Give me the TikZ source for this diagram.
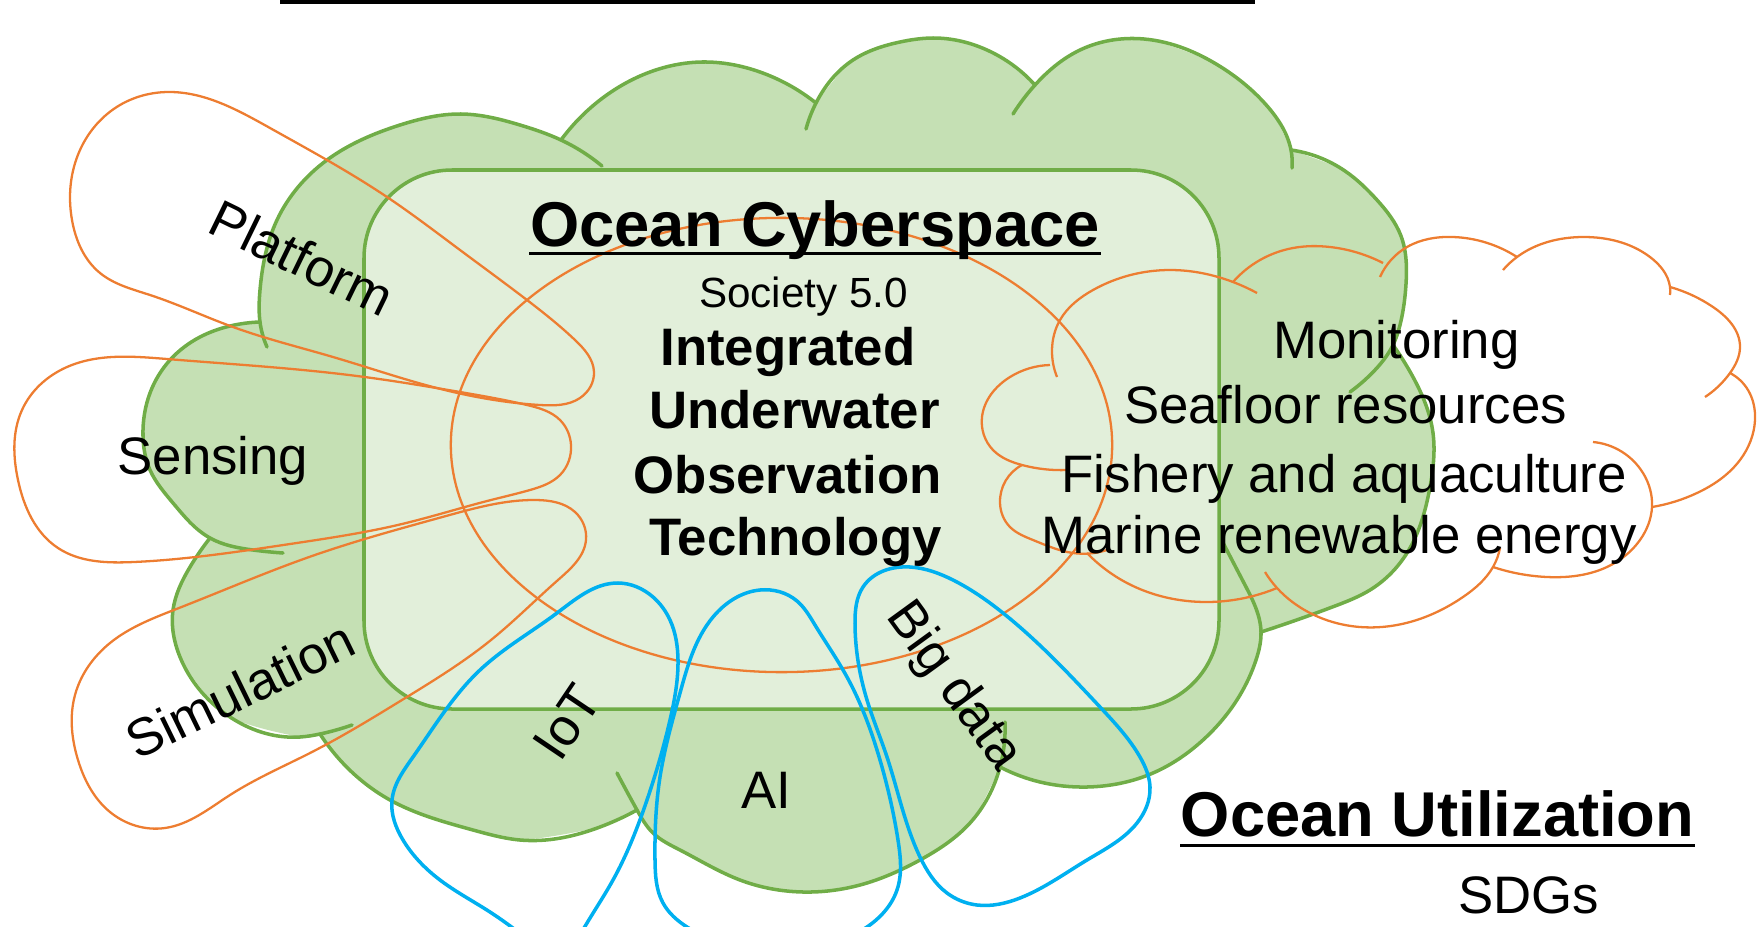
\documentclass[tikz,border=0pt]{standalone}
\usepackage{fontspec}
\setmainfont{Liberation Sans}
\usetikzlibrary{hobby}
\definecolor{gline}{HTML}{70AD47}
\definecolor{gfill}{HTML}{C5E0B4}
\definecolor{lfill}{HTML}{E2EFDA}
\definecolor{oline}{HTML}{ED7D31}
\definecolor{bline}{HTML}{00B0F0}
\begin{document}
\begin{tikzpicture}[x=0.01cm,y=-0.01cm,
  garc/.style={draw=gline,line width=1pt,line cap=round,use Hobby shortcut},
  oarc/.style={draw=oline,line width=0.65pt,use Hobby shortcut},
  ocl/.style={draw=oline,line width=0.65pt,use Hobby shortcut,closed=true},
  bloop/.style={draw=bline,line width=1pt,use Hobby shortcut,closed=true},
  lbl/.style={font=\fontsize{15}{18}\selectfont, inner sep=0pt},
  blbl/.style={font=\fontsize{15}{18}\selectfont\bfseries, inner sep=0pt},
  ttl/.style={font=\fontsize{18}{22}\selectfont\bfseries, inner sep=0pt},
  sml/.style={font=\fontsize{12}{14}\selectfont, inner sep=0pt}]
\useasboundingbox (0,0) rectangle (1757,927);
\clip (0,0) rectangle (1757,927);
% top bar
\fill (280,0) rectangle (1255,4);
% green cloud fill
\fill[gfill] plot[smooth] coordinates {(260,322) (260,290) (277,220) (327,160) (400,125) (461,114) (520,125) (561,140)}
 -- plot[smooth] coordinates {(561,140) (600,100) (650,72) (702,62) (760,72) (816,103)}
 -- plot[smooth] coordinates {(816,103) (853,60) (900,42) (933,38) (987,50) (1035,85)}
 -- plot[smooth] coordinates {(1035,85) (1080,50) (1144,39) (1221,67) (1268,107) (1291,150)}
 -- plot[smooth] coordinates {(1291,150) (1345,171) (1377,200) (1401,236) (1406,284) (1400,325) (1393,345)}
 -- plot[smooth] coordinates {(1393,345) (1413,377) (1433,433) (1430,487) (1407,553) (1370,590) (1335,606) (1261,632)}
 -- plot[smooth] coordinates {(1261,632) (1256,660) (1240,695) (1203,740) (1153,773) (1087,787) (1040,782) (1000,767)}
 -- plot[smooth] coordinates {(1000,767) (970,823) (920,860) (860,885) (803,892) (740,880) (680,850) (653,833) (637,810)}
 -- plot[smooth] coordinates {(637,810) (600,827) (520,840) (473,830) (390,800) (340,760) (320,734)}
 -- plot[smooth] coordinates {(320,734) (300,737) (227,715) (180,657) (173,610) (190,567) (210,538)}
 -- plot[smooth] coordinates {(210,538) (173,503) (150,470) (143,436) (150,393) (170,360) (200,337) (230,326) (260,322)}
 -- cycle;
% green cloud arcs
\draw[garc] (267,347) .. (260,322) .. (260,290) .. (277,220) .. (327,160) .. (400,125) .. (461,114) .. (520,125) .. (561,140) .. (602,166);
\draw[garc] (561,140) .. (600,100) .. (650,72) .. (702,62) .. (760,72) .. (816,103);
\draw[garc] (806,129) .. (816,103) .. (853,60) .. (900,42) .. (933,38) .. (987,50) .. (1035,85);
\draw[garc] (1013,114) .. (1035,85) .. (1080,50) .. (1144,39) .. (1221,67) .. (1268,107) .. (1291,150) .. (1292,168);
\draw[garc] (1291,150) .. (1345,171) .. (1377,200) .. (1401,236) .. (1406,284) .. (1400,325) .. (1393,345) .. (1375,370) .. (1350,392);
\draw[garc] (1393,345) .. (1413,377) .. (1433,433) .. (1430,487) .. (1407,553) .. (1370,590) .. (1335,606) .. (1261,632);
\draw[garc] (1220,537) .. (1245,585) .. (1261,632) .. (1256,660) .. (1240,695) .. (1203,740) .. (1153,773) .. (1087,787) .. (1040,782) .. (1000,767);
\draw[garc] (1005,722) .. (1000,767) .. (970,823) .. (920,860) .. (860,885) .. (803,892) .. (740,880) .. (680,850) .. (653,833) .. (637,810) .. (617,773);
\draw[garc] (637,810) .. (600,827) .. (520,840) .. (473,830) .. (390,800) .. (340,760) .. (320,734);
\draw[garc] (352,725) .. (320,734) .. (300,737) .. (227,715) .. (180,657) .. (173,610) .. (190,567) .. (210,538);
\draw[garc] (283,553) .. (253,550) .. (210,538) .. (173,503) .. (150,470) .. (143,436) .. (150,393) .. (170,360) .. (200,337) .. (230,326) .. (260,322);
% inner rounded rectangle
\draw[gline, fill=lfill, line width=1pt, rounded corners=0.88cm] (364,170) rectangle (1219,709);
% orange petals
\draw[ocl] (168,92) .. (270,128) .. (387,197) .. (460,250) .. (527,300) .. (575,340) .. (594,372) .. (580,398) .. (540,405) .. (433,387) .. (333,357) .. (233,327) .. (150,295) .. (100,273) .. (72,220) .. (80,150) .. (120,105);
\draw[ocl] (67,367) .. (167,359) .. (357,376) .. (460,392) .. (527,405) .. (560,420) .. (571,445) .. (560,475) .. (530,490) .. (491,500) .. (402,524) .. (290,544) .. (134,562) .. (58,548) .. (18,480) .. (22,410);
\draw[ocl] (536,500) .. (575,512) .. (586,540) .. (558,580) .. (491,640) .. (402,700) .. (312,752) .. (230,795) .. (165,828) .. (110,812) .. (78,760) .. (75,695) .. (110,643) .. (179,608) .. (312,556) .. (446,516);
% central ellipse
\draw[draw=oline,line width=0.65pt] (781.5,445) ellipse [x radius=3.305cm, y radius=2.27cm];
% right orange cloud
\draw[oarc] (1057,377) .. (1052,350) .. (1060,320) .. (1093,290) .. (1170,270) .. (1233,282) .. (1257,293);
\draw[oarc] (1050,365) .. (1010,377) .. (982,417) .. (993,450) .. (1022,465) .. (1067,470);
\draw[oarc] (1022,465) .. (1000,503) .. (1010,527) .. (1033,540) .. (1073,553) .. (1107,550);
\draw[oarc] (1087,553) .. (1127,583) .. (1207,602) .. (1277,588);
\draw[oarc] (1265,572) .. (1277,588) .. (1310,613) .. (1360,627) .. (1410,622) .. (1463,597) .. (1493,567) .. (1500,548);
\draw[oarc] (1493,567) .. (1547,577) .. (1607,567) .. (1640,540) .. (1652,507) .. (1643,473) .. (1593,442);
\draw[oarc] (1652,507) .. (1697,493) .. (1740,460) .. (1755,420) .. (1748,390) .. (1730,373);
\draw[oarc] (1705,397) .. (1730,373) .. (1740,347) .. (1713,307) .. (1670,287);
\draw[oarc] (1670,295) .. (1670,287) .. (1650,257) .. (1583,237) .. (1517,257) .. (1503,270);
\draw[oarc] (1517,257) .. (1453,237) .. (1407,247) .. (1380,277);
\draw[oarc] (1233,282) .. (1260,260) .. (1293,248) .. (1330,247) .. (1383,263);
% blue loops
\draw[bloop] (618,583) .. (653,597) .. (670,620) .. (678,660) .. (670,720) .. (647,800) .. (613,880) .. (580,935) .. (560,955) .. (535,945) .. (490,912) .. (440,880) .. (403,840) .. (392,800) .. (413,757) .. (480,670) .. (557,613);
\draw[bloop] (760,590) .. (797,601) .. (815,625) .. (847,677) .. (880,760) .. (898,840) .. (897,890) .. (867,927) .. (780,950) .. (687,927) .. (663,903) .. (655,860) .. (660,777) .. (680,693) .. (713,617);
\draw[bloop] (910,567) .. (953,580) .. (1003,613) .. (1100,707) .. (1140,757) .. (1150,787) .. (1137,823) .. (1087,860) .. (1020,898) .. (977,905) .. (947,893) .. (920,857) .. (887,757) .. (867,700) .. (855,623) .. (863,587);
% texts
\node[ttl, anchor=base] (oc) at (815,246) {Ocean Cyberspace};
\draw[line width=0.85pt] ([yshift=-2.1pt]oc.base west) -- ([yshift=-2.1pt]oc.base east);
\node[sml, anchor=base] (soc) at (803.5,307) {Society 5.0};
\node[blbl, anchor=base] (t1) at (788,365) {Integrated};
\node[blbl, anchor=base] (t2) at (794.5,428.6) {Underwater};
\node[blbl, anchor=base] (t3) at (787.7,493.6) {Observation};
\node[blbl, anchor=base] (t4) at (795.5,555.8) {Technology};
\node[lbl, rotate=-26] (plat) at (302,258) {Platform};
\node[lbl, anchor=base] (sens) at (213,474) {Sensing};
\node[lbl, rotate=26] (simu) at (240,690) {Simulation};
\node[lbl, rotate=56] (iot) at (567,722) {IoT};
\node[lbl, anchor=base] (ai) at (766.7,808) {AI};
\node[lbl, rotate=-54] (bd) at (953,687) {Big data};
\node[lbl, anchor=base] (m1) at (1396.5,358) {Monitoring};
\node[lbl, anchor=base] (m2) at (1345.5,423) {Seafloor resources};
\node[lbl, anchor=base] (m3) at (1344,492) {Fishery and aquaculture};
\node[lbl, anchor=base] (m4) at (1339,553) {Marine renewable energy};
\node[ttl, anchor=base] (ou) at (1437.5,836.6) {Ocean Utilization};
\draw[line width=0.85pt] ([yshift=-2.4pt]ou.base west) -- ([yshift=-2.4pt]ou.base east);
\node[lbl, anchor=base] (sdg) at (1528.5,913) {SDGs};
\end{tikzpicture}
\end{document}
